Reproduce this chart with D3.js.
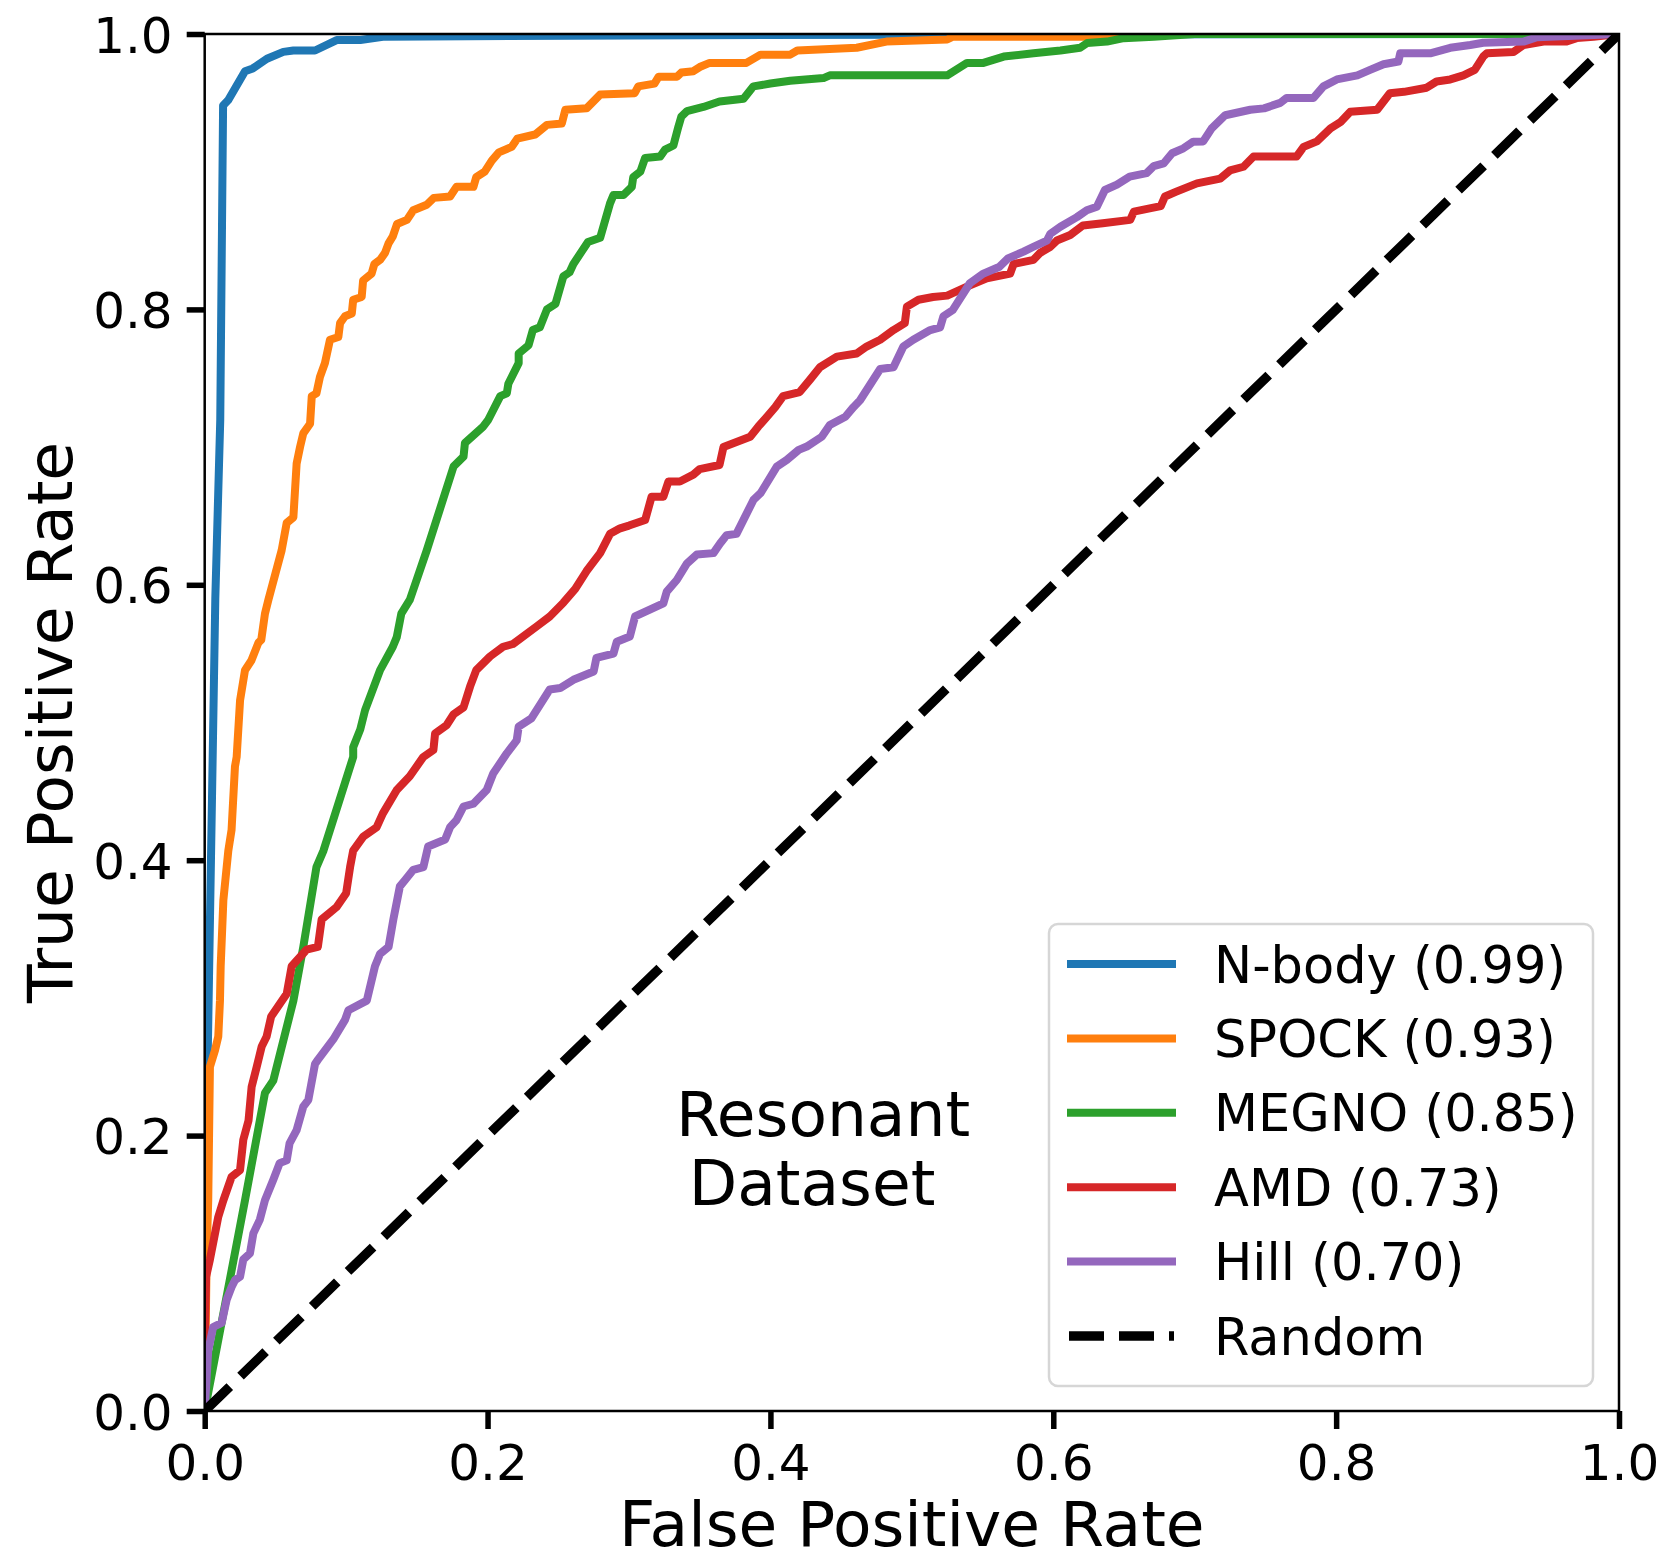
<!DOCTYPE html>
<html>
<head>
<meta charset="utf-8">
<script src="https://cdn.jsdelivr.net/npm/d3@7"></script>
<style>
  html, body { margin: 0; padding: 0; background: #fff; }
  svg { display: block; font-family: "DejaVu Sans", sans-serif; }
</style>
</head>
<body>
<svg id="chart" width="1665" height="1560"></svg>
<script>
// ---------------- DATA ----------------
const seriesNames = ["N-body", "SPOCK", "MEGNO", "AMD", "Hill"];
const seriesAUC = ["0.99", "0.93", "0.85", "0.73", "0.70"];
const seriesColors = ["#1f77b4", "#ff7f0e", "#2ca02c", "#d62728", "#9467bd"];
const tickValues = [0, 0.2, 0.4, 0.6, 0.8, 1.0];
const randomFPR = [0, 1];
const randomTPR = [0, 1];

const nbody = [[0,0],[0,0.10],[0.002,0.25],[0.0075,0.59],[0.011,0.72],[0.013,0.948],[0.0167,0.952],[0.0285,0.973],[0.034,0.975],[0.044,0.982],[0.0556,0.987],[0.0627,0.988],[0.078,0.988],[0.0933,0.9956],[0.11,0.9956],[0.126,0.998],[0.3,0.999],[0.5,0.9995],[1,1]];

const spock = [[0,0],[0.0014,0.115],[0.0025,0.153],[0.0037,0.25],[0.0073,0.262],[0.0096,0.272],[0.0108,0.298],[0.0113,0.323],[0.0132,0.371],[0.0167,0.407],[0.019,0.422],[0.0214,0.468],[0.0226,0.475],[0.025,0.516],[0.0285,0.538],[0.033,0.545],[0.038,0.558],[0.040,0.560],[0.0426,0.579],[0.045,0.589],[0.0544,0.625],[0.058,0.645],[0.0627,0.649],[0.065,0.688],[0.0674,0.700],[0.0697,0.710],[0.0745,0.717],[0.0757,0.737],[0.079,0.739],[0.0815,0.751],[0.085,0.761],[0.0886,0.778],[0.0945,0.780],[0.0957,0.790],[0.0992,0.795],[0.104,0.797],[0.105,0.807],[0.111,0.809],[0.112,0.821],[0.118,0.826],[0.120,0.833],[0.124,0.836],[0.1275,0.841],[0.130,0.848],[0.133,0.853],[0.136,0.862],[0.143,0.865],[0.1475,0.872],[0.157,0.876],[0.162,0.881],[0.1735,0.882],[0.178,0.889],[0.190,0.889],[0.192,0.896],[0.198,0.900],[0.203,0.908],[0.208,0.914],[0.217,0.918],[0.221,0.924],[0.2336,0.927],[0.242,0.934],[0.2525,0.935],[0.255,0.945],[0.270,0.946],[0.2796,0.956],[0.304,0.957],[0.3066,0.962],[0.318,0.964],[0.321,0.969],[0.334,0.969],[0.337,0.972],[0.3455,0.973],[0.350,0.976],[0.357,0.979],[0.383,0.979],[0.393,0.985],[0.414,0.985],[0.419,0.988],[0.461,0.990],[0.482,0.9945],[0.525,0.996],[0.529,0.998],[0.633,0.998],[0.65,1],[1,1]];

const megno = [[0,0],[0.0285,0.153],[0.0426,0.231],[0.0485,0.240],[0.0627,0.298],[0.0697,0.337],[0.079,0.395],[0.084,0.407],[0.105,0.475],[0.105,0.482],[0.11,0.495],[0.1134,0.509],[0.124,0.538],[0.133,0.555],[0.1358,0.562],[0.139,0.579],[0.145,0.589],[0.157,0.625],[0.176,0.686],[0.183,0.693],[0.184,0.703],[0.197,0.715],[0.2006,0.720],[0.209,0.737],[0.2136,0.739],[0.2147,0.746],[0.222,0.761],[0.222,0.768],[0.229,0.774],[0.232,0.785],[0.237,0.787],[0.242,0.800],[0.248,0.804],[0.2536,0.824],[0.258,0.827],[0.2607,0.833],[0.271,0.849],[0.2796,0.852],[0.2866,0.877],[0.289,0.883],[0.296,0.883],[0.302,0.889],[0.303,0.896],[0.308,0.900],[0.3114,0.910],[0.322,0.911],[0.3255,0.916],[0.3314,0.919],[0.335,0.933],[0.337,0.940],[0.341,0.944],[0.3526,0.947],[0.364,0.951],[0.381,0.953],[0.388,0.962],[0.400,0.964],[0.414,0.966],[0.4375,0.968],[0.442,0.970],[0.525,0.970],[0.539,0.979],[0.5506,0.979],[0.565,0.9836],[0.586,0.986],[0.605,0.988],[0.619,0.990],[0.624,0.9935],[0.638,0.9945],[0.6497,0.997],[0.671,0.998],[0.70,1],[1,1]];

const amd = [[0,0],[0,0.049],[0.001,0.0975],[0.0037,0.11],[0.0073,0.129],[0.0096,0.141],[0.0132,0.153],[0.019,0.170],[0.025,0.175],[0.0273,0.197],[0.031,0.211],[0.0332,0.2355],[0.0368,0.250],[0.0403,0.2647],[0.0438,0.272],[0.047,0.2865],[0.058,0.303],[0.0615,0.323],[0.072,0.335],[0.080,0.337],[0.0827,0.357],[0.0933,0.366],[0.100,0.376],[0.1028,0.395],[0.105,0.407],[0.112,0.417],[0.1216,0.424],[0.126,0.434],[0.1358,0.451],[0.145,0.461],[0.1546,0.475],[0.1617,0.480],[0.1629,0.492],[0.171,0.498],[0.176,0.506],[0.183,0.511],[0.1876,0.526],[0.192,0.538],[0.2018,0.548],[0.211,0.555],[0.218,0.557],[0.235,0.570],[0.244,0.577],[0.2536,0.587],[0.262,0.597],[0.270,0.610],[0.2796,0.623],[0.2866,0.637],[0.2937,0.641],[0.300,0.643],[0.3114,0.647],[0.316,0.664],[0.3243,0.664],[0.3279,0.675],[0.336,0.675],[0.3455,0.680],[0.350,0.684],[0.364,0.687],[0.3668,0.700],[0.3857,0.7075],[0.3915,0.715],[0.3975,0.722],[0.4034,0.729],[0.409,0.737],[0.4207,0.740],[0.428,0.749],[0.435,0.758],[0.447,0.7657],[0.461,0.768],[0.468,0.773],[0.4776,0.778],[0.487,0.785],[0.495,0.790],[0.4965,0.802],[0.5047,0.807],[0.515,0.809],[0.525,0.810],[0.539,0.8165],[0.553,0.8225],[0.5695,0.826],[0.572,0.833],[0.586,0.836],[0.5906,0.841],[0.598,0.8455],[0.6025,0.850],[0.612,0.854],[0.621,0.861],[0.635,0.8625],[0.6544,0.865],[0.657,0.871],[0.669,0.8735],[0.676,0.875],[0.679,0.882],[0.687,0.8855],[0.7016,0.8915],[0.718,0.895],[0.725,0.901],[0.7345,0.9036],[0.7416,0.911],[0.772,0.911],[0.777,0.918],[0.7864,0.922],[0.796,0.9315],[0.803,0.936],[0.810,0.9436],[0.829,0.945],[0.838,0.957],[0.848,0.958],[0.864,0.961],[0.871,0.9655],[0.8807,0.967],[0.890,0.970],[0.898,0.974],[0.904,0.9836],[0.9066,0.986],[0.9255,0.987],[0.9325,0.992],[0.9467,0.9945],[0.963,0.9945],[0.970,0.997],[0.982,0.998],[1,1]];

const hill = [[0,0],[0.0025,0.044],[0.006,0.061],[0.012,0.064],[0.0156,0.081],[0.019,0.090],[0.0214,0.095],[0.025,0.0975],[0.0273,0.110],[0.032,0.1145],[0.0344,0.129],[0.039,0.139],[0.0426,0.153],[0.0485,0.168],[0.053,0.180],[0.058,0.182],[0.060,0.1944],[0.065,0.204],[0.0697,0.221],[0.0733,0.226],[0.078,0.252],[0.080,0.255],[0.091,0.270],[0.0992,0.284],[0.1016,0.291],[0.1146,0.298],[0.1204,0.323],[0.124,0.332],[0.130,0.337],[0.1334,0.357],[0.138,0.381],[0.1417,0.3856],[0.1475,0.393],[0.1546,0.395],[0.158,0.410],[0.170,0.415],[0.1735,0.424],[0.178,0.429],[0.183,0.439],[0.190,0.441],[0.1994,0.451],[0.204,0.463],[0.2136,0.4776],[0.2206,0.487],[0.222,0.497],[0.231,0.503],[0.244,0.524],[0.2513,0.525],[0.2607,0.531],[0.275,0.537],[0.277,0.547],[0.289,0.550],[0.2914,0.5587],[0.3006,0.5625],[0.3043,0.577],[0.3147,0.582],[0.3243,0.5865],[0.3267,0.595],[0.3338,0.6035],[0.341,0.6155],[0.348,0.622],[0.3597,0.623],[0.3644,0.630],[0.369,0.636],[0.376,0.637],[0.388,0.6616],[0.393,0.6665],[0.4045,0.6858],[0.4116,0.6907],[0.420,0.698],[0.4257,0.7004],[0.4363,0.7075],[0.442,0.716],[0.453,0.722],[0.4587,0.729],[0.4634,0.734],[0.4776,0.7567],[0.487,0.758],[0.494,0.773],[0.501,0.778],[0.513,0.785],[0.520,0.787],[0.5223,0.795],[0.529,0.7996],[0.541,0.819],[0.5506,0.826],[0.562,0.831],[0.568,0.837],[0.579,0.842],[0.586,0.8455],[0.5955,0.850],[0.598,0.855],[0.605,0.860],[0.6167,0.867],[0.6237,0.872],[0.6308,0.8746],[0.6365,0.8867],[0.645,0.8906],[0.654,0.8964],[0.666,0.899],[0.671,0.904],[0.678,0.906],[0.684,0.9134],[0.692,0.917],[0.699,0.9218],[0.706,0.922],[0.712,0.9315],[0.7216,0.941],[0.7393,0.945],[0.749,0.946],[0.7605,0.950],[0.765,0.9536],[0.784,0.9536],[0.791,0.962],[0.8005,0.967],[0.815,0.970],[0.824,0.974],[0.8335,0.978],[0.844,0.980],[0.8453,0.986],[0.8665,0.986],[0.8807,0.990],[0.8948,0.992],[0.904,0.9936],[0.9325,0.9945],[0.942,0.9976],[1,1]];

const seriesData = [nbody, spock, megno, amd, hill];

// ---------------- LAYOUT ----------------
const svg = d3.select("#chart");
const X0 = 204.7, X1 = 1619, YT = 34, YB = 1411;
const x = d3.scaleLinear().domain([0, 1]).range([X0, X1]);
const y = d3.scaleLinear().domain([0, 1]).range([YB, YT]);

svg.append("rect").attr("width", 1665).attr("height", 1560).attr("fill", "#fff");

svg.append("defs").append("clipPath").attr("id", "plotclip")
  .append("rect").attr("x", X0).attr("y", YT).attr("width", X1 - X0).attr("height", YB - YT);

const plot = svg.append("g").attr("clip-path", "url(#plotclip)");
const line = d3.line().x(d => x(d[0])).y(d => y(d[1]));

seriesData.forEach((s, i) => {
  plot.append("path")
    .attr("d", line(s))
    .attr("fill", "none")
    .attr("stroke", seriesColors[i])
    .attr("stroke-width", 8)
    .attr("stroke-linejoin", "round")
    .attr("stroke-linecap", "square");
});

const randomPts = randomFPR.map((v, i) => [v, randomTPR[i]]);
plot.append("path")
  .attr("d", line(randomPts))
  .attr("fill", "none")
  .attr("stroke", "#000")
  .attr("stroke-width", 9.4)
  .attr("stroke-dasharray", "35,15");

// frame
svg.append("rect")
  .attr("x", X0).attr("y", YT).attr("width", X1 - X0).attr("height", YB - YT)
  .attr("fill", "none").attr("stroke", "#000").attr("stroke-width", 2.5);

// axes
const fmt = d3.format(".1f");
const xAxis = svg.append("g").attr("transform", `translate(0,${YB})`)
  .call(d3.axisBottom(x).tickValues(tickValues).tickFormat(fmt).tickSize(18).tickSizeOuter(0).tickPadding(15));
const yAxis = svg.append("g").attr("transform", `translate(${X0},0)`)
  .call(d3.axisLeft(y).tickValues(tickValues).tickFormat(fmt).tickSize(18).tickSizeOuter(0).tickPadding(14));
[xAxis, yAxis].forEach(a => {
  a.select(".domain").remove();
  a.selectAll(".tick line").attr("stroke", "#000").attr("stroke-width", 5.5);
  a.selectAll(".tick text").attr("fill", "#000")
    .style("font-family", "DejaVu Sans").style("font-size", "50px");
});
yAxis.selectAll(".tick text").attr("dy", "0.36em");

// axis labels
svg.append("text").attr("x", (X0 + X1) / 2).attr("y", 1546)
  .attr("text-anchor", "middle").style("font-size", "63px").text("False Positive Rate");
svg.append("text").attr("transform", `translate(72,${(YT + YB) / 2}) rotate(-90)`)
  .attr("text-anchor", "middle").style("font-size", "63px").text("True Positive Rate");

// annotation
svg.append("text").attr("x", 823).attr("y", 1136).attr("text-anchor", "middle")
  .style("font-size", "63px").text("Resonant");
svg.append("text").attr("x", 812).attr("y", 1205).attr("text-anchor", "middle")
  .style("font-size", "63px").text("Dataset");

// legend
const lg = svg.append("g");
lg.append("rect").attr("x", 1049).attr("y", 924).attr("width", 544).attr("height", 462)
  .attr("rx", 9).attr("ry", 9)
  .attr("fill", "#fff").attr("fill-opacity", 0.8)
  .attr("stroke", "#d6d6d6").attr("stroke-width", 2.5);
const legendLabels = seriesNames.map((n, i) => `${n} (${seriesAUC[i]})`).concat(["Random"]);
const rowY0 = 964, rowStep = 74.4;
legendLabels.forEach((lab, i) => {
  const cy = rowY0 + i * rowStep;
  if (i < seriesNames.length) {
    lg.append("line").attr("x1", 1067).attr("x2", 1176).attr("y1", cy).attr("y2", cy)
      .attr("stroke", seriesColors[i]).attr("stroke-width", 8);
  } else {
    lg.append("line").attr("x1", 1069).attr("x2", 1174).attr("y1", cy).attr("y2", cy)
      .attr("stroke", "#000").attr("stroke-width", 9.4).attr("stroke-dasharray", "35,15");
  }
  lg.append("text").attr("x", 1214).attr("y", cy + 18.5)
    .style("font-size", "51px").text(lab);
});
</script>
</body>
</html>
